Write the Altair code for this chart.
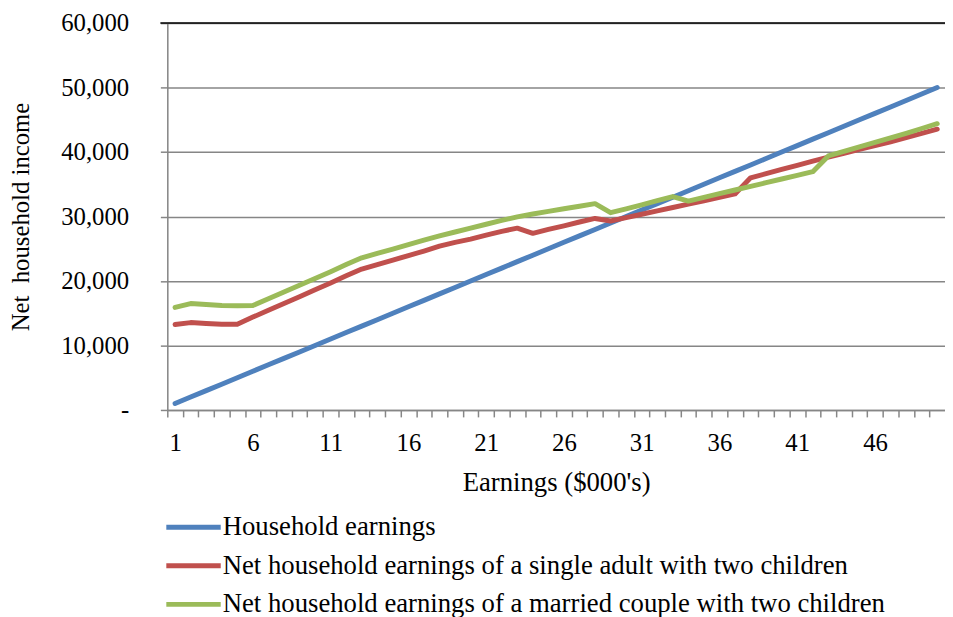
import altair as alt
import pandas as pd

# ---- data ----
earnings = list(range(1, 51))
household = [1000, 2000, 3000, 4000, 5000, 6000, 7000, 8000, 9000, 10000,
             11000, 12000, 13000, 14000, 15000, 16000, 17000, 18000, 19000, 20000,
             21000, 22000, 23000, 24000, 25000, 26000, 27000, 28000, 29000, 30000,
             31000, 32000, 33000, 34000, 35000, 36000, 37000, 38000, 39000, 40000,
             41000, 42000, 43000, 44000, 45000, 46000, 47000, 48000, 49000, 50000]
single = [13250, 13550, 13400, 13300, 13300, 14400, 15450, 16500, 17550, 18650,
          19700, 20800, 21850, 22550, 23250, 23950, 24650, 25400, 26000, 26500,
          27100, 27700, 28200, 27400, 28000, 28550, 29150, 29700, 29300, 29820,
          30350, 30870, 31400, 31920, 32450, 32970, 33500, 36000, 36650, 37300,
          37950, 38600, 39200, 39800, 40400, 41000, 41600, 42250, 42900, 43550]
married = [15900, 16500, 16350, 16200, 16150, 16200, 17250, 18300, 19350, 20400,
           21450, 22550, 23600, 24300, 24950, 25650, 26350, 27000, 27600, 28200,
           28800, 29400, 29950, 30400, 30800, 31200, 31600, 32000, 30600, 31200,
           31800, 32450, 33100, 32400, 32970, 33540, 34110, 34680, 35250, 35820,
           36390, 36960, 39400, 40100, 40800, 41500, 42200, 42900, 43650, 44400]
series_names = ["Household earnings",
                "Net household earnings of a single adult with two children",
                "Net household earnings of a married couple with two children"]
series_colors = ["#4F81BD", "#C0504D", "#9BBB59"]
y_ticks = [0, 10000, 20000, 30000, 40000, 50000, 60000]
x_label_every = 5

rows = []
for name, vals in zip(series_names, [household, single, married]):
    for e, v in zip(earnings, vals):
        rows.append({"earnings": e, "value": v, "series": name})
df = pd.DataFrame(rows)

W, H = 786, 391
FONT = "Liberation Serif"
GRAY = "#868686"
half = W / (2 * len(earnings))
NB = "\u00a0"

xenc = alt.X("earnings:Q",
             scale=alt.Scale(domain=[0.5, len(earnings) + 0.5], nice=False, zero=False),
             axis=alt.Axis(values=earnings, tickOffset=-half, labelOffset=half,
                           labelExpr=f"(datum.value - 1) % {x_label_every} == 0 ? datum.label : ''",
                           labelOverlap=False, labelFlush=False, grid=False,
                           tickSize=7, tickColor=GRAY, tickWidth=1.5,
                           domainColor=GRAY, domainWidth=1.5,
                           labelFont=FONT, labelFontSize=25, labelColor="black",
                           labelPadding=14,
                           title="Earnings ($000's)", titleFont=FONT, titleFontSize=27,
                           titleFontWeight="normal", titleColor="black", titlePadding=14))
yenc = alt.Y("value:Q",
             scale=alt.Scale(domain=[0, 60000], nice=False),
             axis=alt.Axis(values=y_ticks,
                           labelExpr=f"datum.value == 0 ? '-{NB}{NB}{NB}{NB}' : format(datum.value, ',')",
                           grid=True, gridColor=GRAY, gridWidth=1.5,
                           tickSize=7, tickColor=GRAY, tickWidth=1.5,
                           domainColor=GRAY, domainWidth=1.5,
                           labelFont=FONT, labelFontSize=25, labelColor="black",
                           labelPadding=32,
                           title=f"Net{NB} household income", titleFont=FONT, titleFontSize=25,
                           titleFontWeight="normal", titleColor="black", titlePadding=28))
color = alt.Color("series:N",
                  scale=alt.Scale(domain=series_names, range=series_colors),
                  legend=alt.Legend(orient="none", legendX=10, legendY=493,
                                    direction="vertical", title=None,
                                    symbolType="M-2,0H2", symbolStrokeWidth=5,
                                    symbolSize=756, labelFont=FONT, labelFontSize=27,
                                    labelColor="black", labelLimit=900, labelOffset=13,
                                    rowPadding=9))

layers = []
for name in series_names:
    layers.append(
        alt.Chart(df).transform_filter(alt.datum.series == name)
        .mark_line(strokeWidth=5, strokeCap="round", strokeJoin="round")
        .encode(x=xenc, y=yenc, color=color)
    )

top_rule = alt.Chart(pd.DataFrame({"v": [max(y_ticks)]})).mark_rule(
    color="black", strokeWidth=1.5).encode(
    y=alt.Y("v:Q"), x=alt.value(-7), x2=alt.value(W))

chart = alt.layer(top_rule, *layers).properties(
    width=W, height=H,
    padding={"left": 161, "top": 12, "right": 0, "bottom": 206},
    autosize=alt.AutoSizeParams(type="none"),
).configure_view(stroke=None).configure(background="white")

chart.save("out.html", embed_options={"renderer": "svg", "actions": False})
